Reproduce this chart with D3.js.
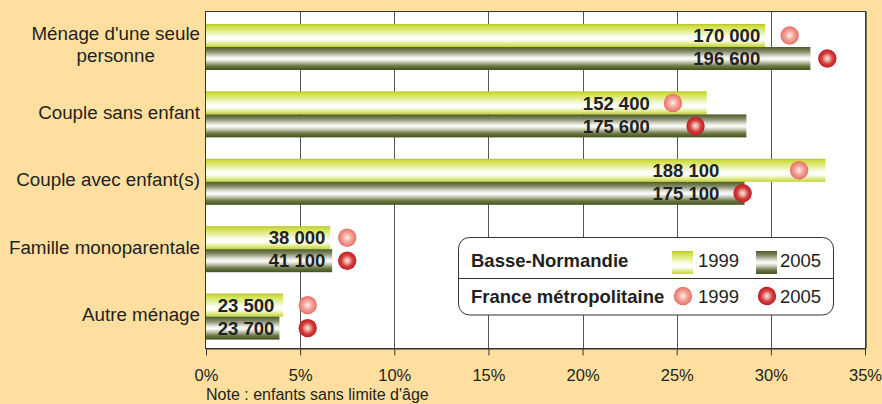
<!DOCTYPE html>
<html><head><meta charset="utf-8">
<script src="https://cdn.jsdelivr.net/npm/d3@7"></script>
<style>
html,body{margin:0;padding:0;background:#fedf9f;}
svg{display:block;font-family:"Liberation Sans",Arial,Helvetica,sans-serif;}
</style>
</head><body>
<svg id="chart" width="882" height="404"></svg>
<script>
// ---- Data ----
const categories = ["Ménage d'une seule personne", "Couple sans enfant", "Couple avec enfant(s)", "Famille monoparentale", "Autre ménage"];
const categoryLines = [["Ménage d'une seule", "personne"], ["Couple sans enfant"], ["Couple avec enfant(s)"], ["Famille monoparentale"], ["Autre ménage"]];
const bn1999 = [29.7, 26.6, 32.9, 6.6, 4.1];      // Basse-Normandie 1999 (%)
const bn2005 = [32.1, 28.7, 28.6, 6.7, 3.9];      // Basse-Normandie 2005 (%)
const count1999 = ["170 000", "152 400", "188 100", "38 000", "23 500"];
const count2005 = ["196 600", "175 600", "175 100", "41 100", "23 700"];
const fr1999 = [31.0, 24.8, 31.5, 7.5, 5.4];      // France métropolitaine 1999 (%)
const fr2005 = [33.0, 26.0, 28.5, 7.5, 5.4];      // France métropolitaine 2005 (%)
const xTicks = [0, 5, 10, 15, 20, 25, 30, 35];
const legendRows = ["Basse-Normandie", "France métropolitaine"];
const legendYears = ["1999", "2005"];
const noteText = "Note : enfants sans limite d'âge";

// ---- Layout ----
const svg = d3.select("#chart");
const plot = {left: 205.5, top: 11.5, right: 865.5, bottom: 348.5};
const x = d3.scaleLinear().domain([0, 35]).range([206, 865]);
const y = d3.scaleBand().domain(categories).range([11, 348]).padding(0);
const barH = 23, barOff = 13, dotR = 9.2;

// ---- Gradients ----
const defs = svg.append("defs");
function linGrad(id, stops) {
  const g = defs.append("linearGradient").attr("id", id).attr("x1", 0).attr("y1", 0).attr("x2", 0).attr("y2", 1);
  stops.forEach(s => g.append("stop").attr("offset", s[0]).attr("stop-color", s[1]));
}
function radGrad(id, stops) {
  const g = defs.append("radialGradient").attr("id", id).attr("cx", "50%").attr("cy", "50%").attr("r", "50%").attr("fx", "50%").attr("fy", "50%");
  stops.forEach(s => g.append("stop").attr("offset", s[0]).attr("stop-color", s[1]));
}
linGrad("g1999", [[0, "#b4c424"], [0.08, "#cddc3c"], [0.3, "#e2ec8c"], [0.55, "#fbfdf0"], [0.68, "#ffffff"], [0.82, "#e8f0a8"], [1, "#c4d42e"]]);
linGrad("g2005", [[0, "#4a5a26"], [0.2, "#868c6a"], [0.42, "#e6e8de"], [0.52, "#ffffff"], [0.66, "#c4c8b2"], [0.82, "#707a48"], [1, "#3f5318"]]);
radGrad("d1999", [[0, "#fdf0ec"], [0.4, "#f5b2a8"], [1, "#e66e64"]]);
radGrad("d2005", [[0, "#f9e6e0"], [0.3, "#eaa29a"], [0.6, "#d5403e"], [1, "#c01b24"]]);

// ---- Plot background ----
svg.append("rect").attr("x", plot.left).attr("y", plot.top)
  .attr("width", plot.right - plot.left).attr("height", plot.bottom - plot.top)
  .attr("fill", "#ffffff");

// gridlines
svg.append("g").selectAll("line").data(xTicks.slice(1, -1)).join("line")
  .attr("x1", d => Math.round(x(d)) + 0.5).attr("x2", d => Math.round(x(d)) + 0.5)
  .attr("y1", plot.top).attr("y2", plot.bottom)
  .attr("stroke", "#555").attr("stroke-width", 1);

// ---- Bars ----
const gBars = svg.append("g");
categories.forEach((c, i) => {
  const y0 = y(c) + barOff;
  gBars.append("rect").attr("x", x(0)).attr("y", y0).attr("width", x(bn1999[i]) - x(0)).attr("height", barH).attr("fill", "url(#g1999)");
  gBars.append("rect").attr("x", x(0)).attr("y", y0 + barH).attr("width", x(bn2005[i]) - x(0)).attr("height", barH).attr("fill", "url(#g2005)");
});

// ---- Value labels ----
const gLab = svg.append("g").attr("font-weight", "bold").attr("font-size", 18.5).attr("fill", "#222").attr("text-anchor", "end");
categories.forEach((c, i) => {
  let end = x(Math.min(bn1999[i], bn2005[i])) - 5;
  [[fr1999[i], bn1999[i]], [fr2005[i], bn2005[i]]].forEach(([f, b]) => {
    if (f < b) end = Math.min(end, x(f) - dotR - 14);
  });
  const y0 = y(c) + barOff;
  gLab.append("text").attr("x", end).attr("y", y0 + barH / 2).attr("dy", "0.36em").text(count1999[i]);
  gLab.append("text").attr("x", end).attr("y", y0 + barH * 1.5).attr("dy", "0.36em").text(count2005[i]);
});

// ---- France dots ----
const gDots = svg.append("g");
categories.forEach((c, i) => {
  const y0 = y(c) + barOff;
  gDots.append("circle").attr("cx", x(fr1999[i])).attr("cy", y0 + barH / 2).attr("r", dotR).attr("fill", "url(#d1999)");
  gDots.append("circle").attr("cx", x(fr2005[i])).attr("cy", y0 + barH * 1.5).attr("r", dotR).attr("fill", "url(#d2005)");
});

// ---- Frame ----
svg.append("rect").attr("x", plot.left).attr("y", plot.top)
  .attr("width", plot.right - plot.left).attr("height", plot.bottom - plot.top)
  .attr("fill", "none").attr("stroke", "#333").attr("stroke-width", 1);
svg.append("line").attr("x1", plot.right + 0.5).attr("x2", plot.right + 0.5).attr("y1", plot.top).attr("y2", plot.bottom)
  .attr("stroke", "#444").attr("stroke-width", 1.5);

// ---- Axis ----
const axis = d3.axisBottom(x).tickValues(xTicks).tickSize(7).tickSizeOuter(0).tickFormat(d => d + "%");
const gAx = svg.append("g").attr("transform", `translate(0,${plot.bottom})`).call(axis);
gAx.attr("font-family", null).attr("font-size", null);
gAx.select(".domain").attr("stroke", "#333");
gAx.selectAll(".tick line").attr("stroke", "#333");
gAx.selectAll(".tick text").attr("font-size", 16.5).attr("fill", "#231f20").attr("dy", 0).attr("y", 32);

// ---- Category labels ----
const gCat = svg.append("g").attr("font-size", 18.8).attr("fill", "#231f20");
categories.forEach((c, i) => {
  const lines = categoryLines[i];
  const cy = y(c) + y.bandwidth() / 2;
  if (lines.length === 1) {
    gCat.append("text").attr("x", 200).attr("y", cy).attr("dy", "0.36em").attr("text-anchor", "end").text(lines[0]);
  } else {
    const t = gCat.append("text").attr("text-anchor", "middle");
    const spans = lines.map((l, k) => t.append("tspan").attr("y", cy + (k - (lines.length - 1) / 2) * 22).attr("dy", "0.36em").text(l));
    const maxW = d3.max(spans, s => s.node().getComputedTextLength());
    spans.forEach(s => s.attr("x", 200 - maxW / 2));
  }
});

// ---- Note ----
svg.append("text").attr("x", 206).attr("y", 400).attr("font-size", 16).attr("fill", "#231f20").text(noteText);

// ---- Legend ----
const lg = svg.append("g");
lg.append("rect").attr("x", 458.5).attr("y", 237.5).attr("width", 375).attr("height", 77.5).attr("rx", 11)
  .attr("fill", "#fff").attr("stroke", "#333").attr("stroke-width", 1);
lg.append("line").attr("x1", 458.5).attr("x2", 833.5).attr("y1", 278.5).attr("y2", 278.5).attr("stroke", "#333");
lg.append("text").attr("x", 471).attr("y", 266.5).attr("font-size", 18.5).attr("font-weight", "bold").attr("fill", "#231f20").text(legendRows[0]);
lg.append("text").attr("x", 471).attr("y", 302.5).attr("font-size", 18.5).attr("font-weight", "bold").attr("fill", "#231f20").text(legendRows[1]);
const swX = [672, 756], txX = [698, 780];
["url(#g1999)", "url(#g2005)"].forEach((f, k) => {
  lg.append("rect").attr("x", swX[k]).attr("y", 251).attr("width", 21).attr("height", 23).attr("fill", f);
  lg.append("text").attr("x", txX[k]).attr("y", 266.5).attr("font-size", 18.5).attr("fill", "#231f20").text(legendYears[k]);
});
["url(#d1999)", "url(#d2005)"].forEach((f, k) => {
  lg.append("circle").attr("cx", swX[k] + 11).attr("cy", 296).attr("r", dotR).attr("fill", f);
  lg.append("text").attr("x", txX[k]).attr("y", 302.5).attr("font-size", 18.5).attr("fill", "#231f20").text(legendYears[k]);
});
</script>
</body></html>
